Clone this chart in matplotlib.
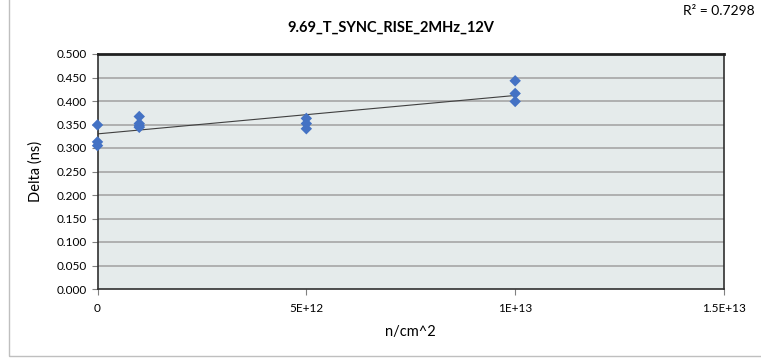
import numpy as np
import matplotlib
matplotlib.use("Agg")
import matplotlib.pyplot as plt
from matplotlib.patches import Rectangle
from matplotlib.ticker import FixedLocator

fluence = [0, 0, 0, 1e12, 1e12, 1e12, 1e12, 5e12, 5e12, 5e12, 1e13, 1e13, 1e13]
delta = [0.349, 0.313, 0.305, 0.367, 0.352, 0.347, 0.344, 0.363, 0.352, 0.341, 0.443, 0.416, 0.399]
xticks = [0, 5e12, 1e13, 1.5e13]
xtick_labels = ["0", "5E+12", "1E+13", "1.5E+13"]
yticks = [0.0, 0.05, 0.1, 0.15, 0.2, 0.25, 0.3, 0.35, 0.4, 0.45, 0.5]
title = "9.69_T_SYNC_RISE_2MHz_12V"
r2_label = "R² = 0.7298"

plt.rcParams['font.family'] = ['Lato', 'DejaVu Sans']

fig = plt.figure(figsize=(7.61, 3.60), dpi=100)
W, H = 761, 360
ax = fig.add_axes([97.5 / W, 1 - 289 / H, (724 - 97.5) / W, (289 - 54) / H])
ax.set_facecolor("#E5EBEB")

# outer chart frame
fig.patches.append(Rectangle((9 / W, 4 / H), 1.2, 1.2, transform=fig.transFigure,
                             fill=False, edgecolor="#BFBFBF", linewidth=1.0))

for y in yticks[1:-1]:
    ax.axhline(y, color="#A6A6A6", linewidth=1.2, zorder=1)

x = np.array(fluence)
y = np.array(delta)
m, b = np.polyfit(x, y, 1)
xl = np.array([x.min(), x.max()])
ax.plot(xl, m * xl + b, color="#404040", linewidth=0.8, zorder=2)

ax.scatter(x, y, marker="D", s=34, color="#4472C4", edgecolors="none", zorder=3, clip_on=False)

ax.set_xlim(0, 1.5e13)
ax.set_ylim(0, 0.5)
ax.xaxis.set_major_locator(FixedLocator(xticks))
ax.set_xticklabels(xtick_labels)
ax.set_yticks(yticks)
ax.set_yticklabels([f"{v:.3f}" for v in yticks])
ax.tick_params(axis="both", labelsize=8.5, color="#808080", length=4, width=0.8, colors="#000000")
ax.tick_params(axis="both", color="#808080")
ax.tick_params(axis="x", pad=6)
ax.tick_params(axis="y", pad=4)

for s in ["left", "bottom", "right"]:
    ax.spines[s].set_color("#303030")
    ax.spines[s].set_linewidth(1.2)
ax.spines["top"].set_color("#202020")
ax.spines["top"].set_linewidth(2.0)

ax.set_xlabel("n/cm^2", fontsize=10.5, labelpad=8)
ax.set_ylabel("Delta (ns)", fontsize=10.5, labelpad=10)

fig.text(391 / W, 1 - 28 / H, title, ha="center", va="center", fontsize=10.5, fontweight="bold")
fig.text(755 / W, 1 - 11 / H, r2_label, ha="right", va="center", fontsize=10)

fig.savefig("out.png", dpi=100)
